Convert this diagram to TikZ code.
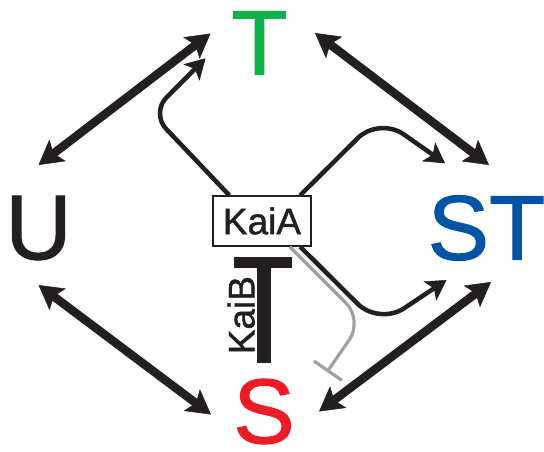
\documentclass[tikz,border=0pt]{standalone}
\usepackage{fontspec}
\setmainfont{Liberation Sans}[FakeBold=1.2]
\usetikzlibrary{arrows.meta,calc}

\definecolor{tgreen}{RGB}{16,176,75}
\definecolor{stblue}{RGB}{0,84,166}
\definecolor{sred}{RGB}{237,28,36}
\definecolor{kaiblack}{RGB}{35,31,32}
\definecolor{kaigray}{RGB}{160,161,165}

\tikzset{
  state/.style={inner sep=0pt, font=\fontsize{92}{92}\selectfont},
  kai/.style={inner sep=0pt, font=\fontsize{37}{37}\selectfont, text=kaiblack},
  bighead/.tip={Stealth[length=24pt,width=27pt,inset=5pt,line width=0.5pt]},
  smallhead/.tip={Stealth[length=20pt,width=23pt,inset=5pt,line width=0.5pt]},
  exchange/.style={line width=8.5pt, kaiblack, {bighead}-{bighead}},
  promote/.style={line width=4.5pt, kaiblack, rounded corners=24pt, -{smallhead}},
  inhibit/.style={line width=3.2pt, kaigray, rounded corners=24pt, -{Bar[width=34pt]}},
}

\begin{document}
\begin{tikzpicture}[x=1pt,y=-1pt]
  \useasboundingbox (0,0) rectangle (544,451);
  \node[state, text=tgreen] (T) at (259.5,43) {T};
  \node[state, text=kaiblack] (U) at (38.5,228) {U};
  \node[state, text=stblue] (ST) at (486.5,228) {ST};
  \node[state, text=sred] (S) at (264,411.5) {S};
  \node[kai, draw=kaiblack, line width=1.3pt, minimum width=98pt, minimum height=50pt] (KaiA) at (262,221) {KaiA};

  % KaiB
  \coordinate (KaiB) at ($(KaiA.south)+(1.5,10)$);
  \fill[kaiblack] ($(KaiB)+(-29.5,0)$) rectangle ($(KaiB)+(28.5,11)$);
  \fill[kaiblack] ($(KaiB)+(-7,0)$) rectangle ($(KaiB)+(7,106)$);
  \node[kai, rotate=90, anchor=south] (KaiBlabel) at ($(KaiB)+(-8.5,58.5)$) {KaiB};

  % transitions between states
  \draw[exchange] ($(U)+(0,-63)$) -- ($(T)+(-49,-9.5)$);
  \draw[exchange] ($(T)+(55.5,-10)$) -- ($(ST)+(2.5,-63)$);
  \draw[exchange] ($(U)+(0,57)$) -- ($(S)+(-53,3)$);
  \draw[exchange] ($(ST)+(4.5,54)$) -- ($(S)+(55,0)$);

  % KaiA and KaiB effects
  \draw[promote, rounded corners=22pt] ($(KaiA.north west)+(17,0)$) -- ($(KaiA)+(-111,-108)$) -- ($(T)+(-54,15.3)$);
  \draw[promote, rounded corners=30pt] ($(KaiA.north east)+(-11.5,0)$) -- ($(KaiA)+(117,-104)$) -- ($(ST)+(-41.5,-64.7)$);
  \draw[promote, rounded corners=30pt] ($(KaiA.south east)+(-11.5,0)$) -- ($(KaiA)+(117,104)$) -- ($(ST)+(-40,52)$);
  \draw[inhibit] ($(KaiA.south east)+(-22,0)$) -- ($(KaiA)+(101,99)$) -- ($(S)+(63,-39.5)$);
\end{tikzpicture}
\end{document}
